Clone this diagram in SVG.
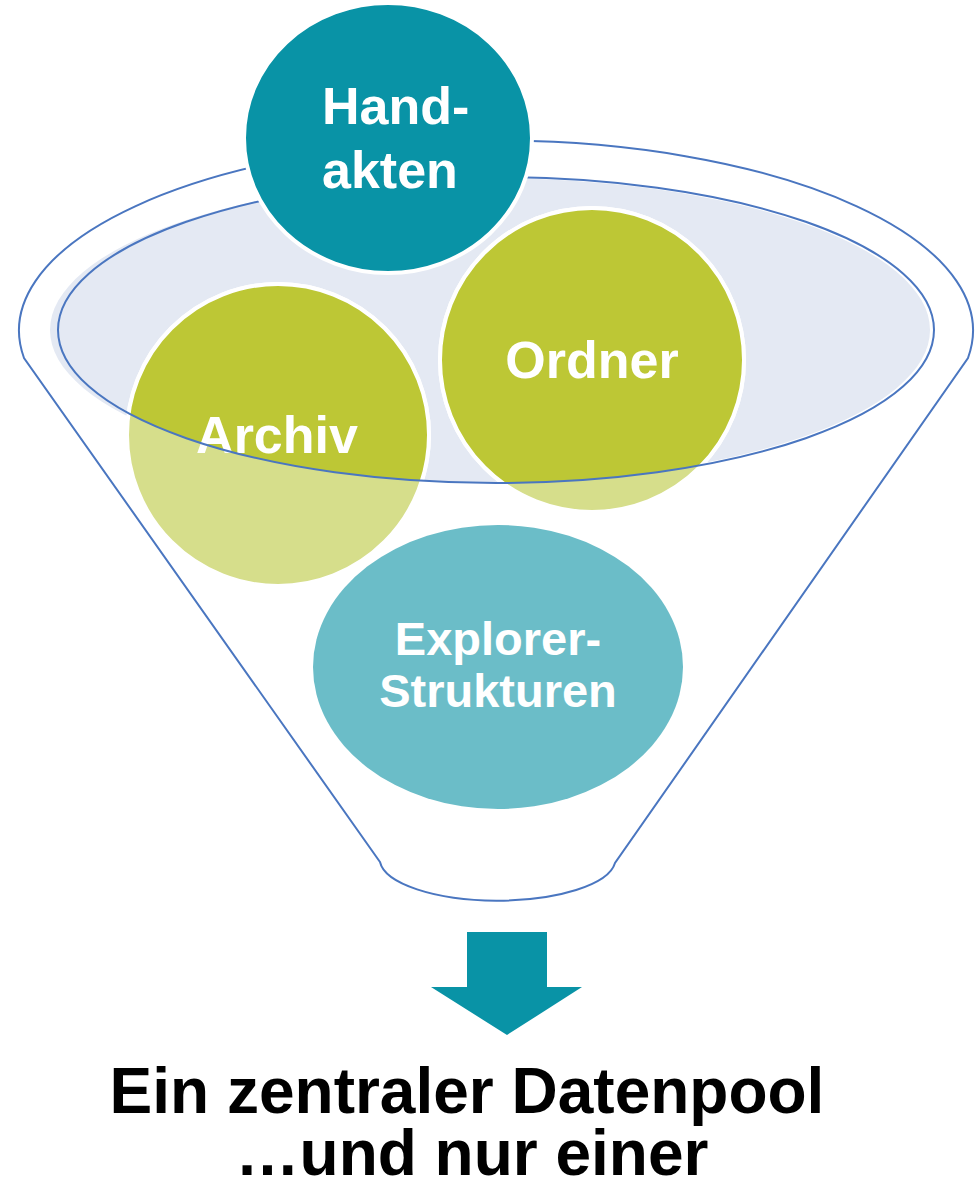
<svg xmlns="http://www.w3.org/2000/svg" width="976" height="1178" viewBox="0 0 976 1178">
<style>
.rim{fill:none;stroke:#4A76C0;stroke-width:2}
.lbl{font-family:"Liberation Sans",Arial,sans-serif;font-weight:bold;fill:#FFFFFF}
.cap{font-family:"Liberation Sans",Arial,sans-serif;font-weight:bold;fill:#000000;font-size:64px}
.ring{stroke:#FFFFFF;stroke-width:4}
</style>
<defs>
<clipPath id="inner"><ellipse cx="496" cy="330" rx="438" ry="153"/></clipPath>
</defs>
<rect width="976" height="1178" fill="#FFFFFF"/>
<g id="funnel">
<path class="rim" d="M380,862 L24,358 A477,190 0 1 1 968,358 L615,863 A118,42 0 0 1 380,862 Z"/>
<ellipse cx="490" cy="330" rx="440" ry="152" fill="#E4E9F3"/>
</g>
<g id="archiv">
<circle cx="278" cy="435" r="151" fill="#D6DE8B" class="ring"/>
<circle cx="278" cy="435" r="151" fill="#BDC735" class="ring" clip-path="url(#inner)"/>
<text class="lbl" x="277" y="453" font-size="52" text-anchor="middle">Archiv</text>
</g>
<g id="ordner">
<circle cx="592" cy="360" r="152" fill="#D6DE8B" class="ring"/>
<circle cx="592" cy="360" r="152" fill="#BDC735" class="ring" clip-path="url(#inner)"/>
<text class="lbl" x="592" y="378" font-size="52" text-anchor="middle">Ordner</text>
</g>
<g id="explorer">
<ellipse cx="498" cy="667" rx="185" ry="142" fill="#6BBDC8"/>
<text class="lbl" x="498" y="655" font-size="47" text-anchor="middle">Explorer-</text>
<text class="lbl" x="498" y="707" font-size="47" text-anchor="middle">Strukturen</text>
</g>
<g id="rim-front">
<ellipse class="rim" cx="496" cy="330" rx="438" ry="153"/>
</g>
<g id="handakten">
<ellipse cx="388" cy="138" rx="144" ry="135" fill="#0993A6" class="ring"/>
<text class="lbl" x="322" y="124" font-size="52">Hand-</text>
<text class="lbl" x="322" y="188" font-size="52">akten</text>
</g>
<g id="connectors">
<path id="arrow" d="M467,932 L547,932 L547,987 L582,987 L507,1035 L431,987 L467,987 Z" fill="#0993A6"/>
</g>
<g id="caption">
<text class="cap" x="467" y="1113" text-anchor="middle">Ein zentraler Datenpool</text>
<text class="cap" x="472" y="1175" text-anchor="middle">…und nur einer</text>
</g>
</svg>
